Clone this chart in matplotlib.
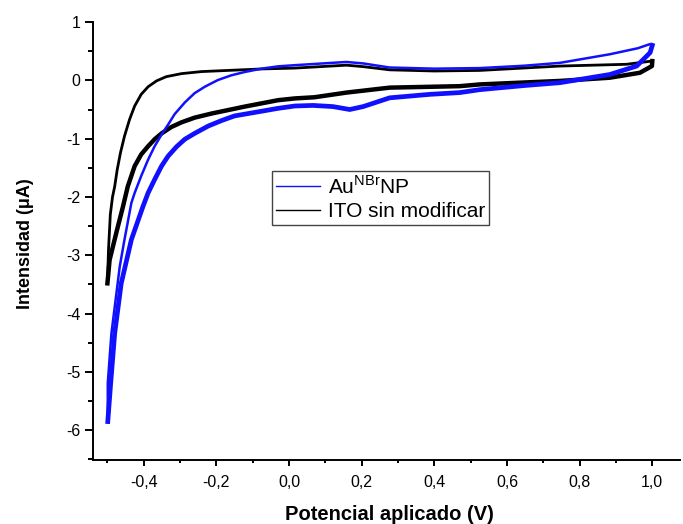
import matplotlib
matplotlib.use('Agg')
import matplotlib.pyplot as plt
from matplotlib.lines import Line2D
from matplotlib.ticker import MultipleLocator, FuncFormatter

plt.rcParams['font.family'] = ['Liberation Sans', 'DejaVu Sans']
plt.rcParams['mathtext.fontset'] = 'custom'
plt.rcParams['mathtext.rm'] = 'Liberation Sans'
plt.rcParams['axes.unicode_minus'] = False

# AuNBrNP, upper branch (potential V, current uA)
au_up_x = [-0.499, -0.499, -0.489, -0.466, -0.453, -0.434, -0.425, -0.407, -0.388, -0.37,
           -0.351, -0.333, -0.315, -0.287, -0.26, -0.232, -0.196, -0.159, -0.122, -0.076,
           -0.03, 0.016, 0.08, 0.158, 0.204, 0.277, 0.40, 0.525, 0.646, 0.746,
           0.883, 0.96, 0.993, 1.0]
au_up_y = [-5.85, -5.19, -4.34, -3.19, -2.73, -2.10, -1.93, -1.64, -1.36, -1.13,
           -0.93, -0.76, -0.58, -0.38, -0.22, -0.11, 0.005, 0.086, 0.143, 0.20,
           0.24, 0.26, 0.285, 0.315, 0.29, 0.22, 0.20, 0.21, 0.25, 0.30,
           0.447, 0.55, 0.62, 0.60]
# AuNBrNP, lower branch
au_lo_x = [-0.499, -0.491, -0.48, -0.462, -0.434, -0.402, -0.388, -0.37, -0.351, -0.333,
           -0.31, -0.287, -0.26, -0.223, -0.186, -0.15, -0.113, -0.076, -0.03, 0.016,
           0.066, 0.121, 0.167, 0.204, 0.277, 0.388, 0.47, 0.525, 0.646, 0.746,
           0.883, 0.957, 0.994, 1.0]
au_lo_y = [-5.85, -5.19, -4.34, -3.48, -2.73, -2.16, -1.93, -1.70, -1.47, -1.30,
           -1.14, -1.01, -0.91, -0.785, -0.69, -0.61, -0.57, -0.53, -0.48, -0.44,
           -0.43, -0.45, -0.50, -0.45, -0.30, -0.24, -0.21, -0.16, -0.09, -0.04,
           0.10, 0.245, 0.475, 0.60]
# ITO sin modificar, upper branch
ito_up_x = [-0.5, -0.497, -0.492, -0.486, -0.480, -0.473, -0.464, -0.453, -0.439, -0.425,
            -0.407, -0.388, -0.365, -0.338, -0.296, -0.241, -0.168, -0.076, 0.016, 0.158,
            0.204, 0.277, 0.40, 0.525, 0.746, 0.929, 0.998, 1.0]
ito_up_y = [-3.48, -2.90, -2.30, -2.00, -1.82, -1.53, -1.24, -0.957, -0.67, -0.44,
            -0.24, -0.11, -0.01, 0.063, 0.115, 0.15, 0.17, 0.195, 0.21, 0.26,
            0.235, 0.18, 0.16, 0.17, 0.245, 0.275, 0.33, 0.33]
# ITO sin modificar, lower branch
ito_lo_x = [-0.5, -0.494, -0.475, -0.457, -0.444, -0.425, -0.407, -0.388, -0.37, -0.351,
            -0.324, -0.296, -0.26, -0.214, -0.168, -0.122, -0.076, -0.03, 0.016, 0.07,
            0.158, 0.277, 0.47, 0.525, 0.746, 0.883, 0.966, 0.999, 1.0]
ito_lo_y = [-3.48, -3.08, -2.60, -2.16, -1.82, -1.47, -1.27, -1.13, -1.01, -0.91,
            -0.80, -0.72, -0.64, -0.57, -0.51, -0.45, -0.395, -0.34, -0.31, -0.29,
            -0.21, -0.125, -0.10, -0.07, -0.01, 0.045, 0.13, 0.245, 0.33]

fig = plt.figure(figsize=(6.83, 5.24), dpi=100)
ax = fig.add_axes([0.136, 0.122, 0.86, 0.836])

ax.plot(ito_up_x, ito_up_y, color='black', lw=2.0, solid_joinstyle='round')
ax.plot(ito_lo_x, ito_lo_y, color='black', lw=3.2, solid_joinstyle='round')
ax.plot(au_up_x, au_up_y, color='#1010ff', lw=1.8, solid_joinstyle='round')
ax.plot(au_lo_x, au_lo_y, color='#1010ff', lw=3.4, solid_joinstyle='round')

ax.set_xlim(-0.54, 1.077)
ax.set_ylim(-6.51, 1.0)

for s in ['top', 'right']:
    ax.spines[s].set_visible(False)
for s in ['left', 'bottom']:
    ax.spines[s].set_linewidth(1.4)

ax.xaxis.set_major_locator(MultipleLocator(0.2))
ax.xaxis.set_minor_locator(MultipleLocator(0.1))
ax.yaxis.set_major_locator(MultipleLocator(1))
ax.yaxis.set_minor_locator(MultipleLocator(0.5))
ax.xaxis.set_major_formatter(FuncFormatter(lambda v, p: ('%.1f' % v).replace('.', ',').replace('-0,0', '0,0')))
ax.yaxis.set_major_formatter(FuncFormatter(lambda v, p: '%d' % round(v)))
ax.tick_params(axis='x', which='major', direction='out', length=4.5, width=1.4, labelsize=11.5, pad=6)
ax.tick_params(axis='x', which='minor', direction='out', length=2.5, width=1.4)
ax.tick_params(axis='y', which='major', direction='out', length=6, width=1.4, labelsize=11.5, pad=3)
ax.tick_params(axis='y', which='minor', direction='out', length=3.5, width=1.4)

ax.set_xlabel('Potencial aplicado (V)', fontsize=14.5, fontweight='bold')
ax.xaxis.set_label_coords(0.505, -0.102)
ax.set_ylabel('Intensidad (μA)', fontsize=13, fontweight='bold')
ax.yaxis.set_label_coords(-0.10, 0.495)

handles = [Line2D([], [], color='#1010ff', lw=1),
           Line2D([], [], color='black', lw=1)]
leg = ax.legend(handles, [r'Au$^{\mathrm{NBr}}$NP', 'ITO sin modificar'],
                loc='upper left', bbox_to_anchor=(0.305, 0.66), fontsize=15,
                fancybox=False, framealpha=1, edgecolor='#444444',
                handlelength=2.1, handletextpad=0.38, borderpad=0.2,
                labelspacing=0.2, borderaxespad=0)
leg.get_frame().set_linewidth(1.0)

fig.savefig('out.png', dpi=100)
